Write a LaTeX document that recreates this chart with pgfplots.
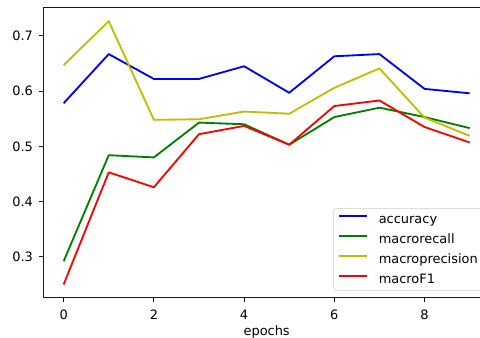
\documentclass[border=0pt]{standalone}
\usepackage{fontspec}
\setmainfont{DejaVu Sans}
\usepackage{pgfplots}
\usepackage{pgfplotstable}
\pgfplotsset{compat=1.18}
\pgfplotstableread{
ep acc rec prec fone
0 0.578 0.292 0.647 0.250
1 0.667 0.484 0.7265 0.453
2 0.622 0.480 0.548 0.426
3 0.622 0.543 0.549 0.522
4 0.645 0.540 0.563 0.537
5 0.597 0.503 0.559 0.503
6 0.663 0.553 0.606 0.573
7 0.667 0.570 0.641 0.583
8 0.604 0.553 0.552 0.535
9 0.596 0.533 0.519 0.507
}\datatable
\definecolor{myyellow}{rgb}{0.75,0.75,0}
\definecolor{mygreen}{rgb}{0,0.5,0}
\begin{document}
\begin{tikzpicture}[font=\fontsize{9.7}{11.6}\selectfont]
\useasboundingbox (0,0) rectangle (360pt,253.5pt);
\clip (0,0) rectangle (360pt,253.5pt);
\begin{axis}[
  at={(32.5pt,30pt)}, anchor=south west,
  scale only axis, width=335pt, height=217.5pt,
  xmin=-0.45, xmax=9.45, ymin=0.2256, ymax=0.7504,
  axis line style={line width=0.74pt, black!90},
  tick align=outside, tick pos=left,
  major tick length=3.2pt,
  every tick/.style={line width=0.74pt, black!90},
  xtick={0,2,4,6,8},
  ytick={0.3,0.4,0.5,0.6,0.7},
  /pgf/number format/assume math mode=true,
  tick label style={font=\fontsize{9.7}{11.6}\selectfont},
  yticklabel style={/pgf/number format/fixed, /pgf/number format/precision=1, /pgf/number format/fixed zerofill, inner sep=0pt, anchor=east, xshift=-4.4pt},
  xticklabel style={inner sep=0pt, anchor=north, yshift=-5.8pt},
  xlabel={epochs},
  xlabel style={at={(axis description cs:0.5,0)}, anchor=north, inner sep=0pt, yshift=-20.8pt, font=\fontsize{9.7}{11.6}\selectfont},
  legend cell align=left,
  legend image code/.code={\draw[#1, line width=1.38pt] (0pt,2.6pt) -- (20.8pt,2.6pt);},
  legend style={at={(1,0)}, anchor=south east, xshift=-5.25pt, yshift=5.25pt,
    draw=black!20, rounded corners=2pt, fill=white, fill opacity=0.8, text opacity=1, draw opacity=1,
    font=\fontsize{9.7}{11.6}\selectfont, inner xsep=3.75pt, inner ysep=3.6pt, row sep=5.5pt, column sep=8pt,
    nodes={inner sep=0pt, text height=0.75em, text depth=0.2em}},
  every axis plot/.append style={line width=1.38pt, line join=round},
]
\addplot[color=blue, no markers] table[x=ep, y=acc] {\datatable};
\addlegendentry{accuracy}
\addplot[color=mygreen, no markers] table[x=ep, y=rec] {\datatable};
\addlegendentry{macrorecall}
\addplot[color=myyellow, no markers] table[x=ep, y=prec] {\datatable};
\addlegendentry{macroprecision}
\addplot[color=red, no markers] table[x=ep, y=fone] {\datatable};
\addlegendentry{macroF1}
\end{axis}
\end{tikzpicture}
\end{document}
